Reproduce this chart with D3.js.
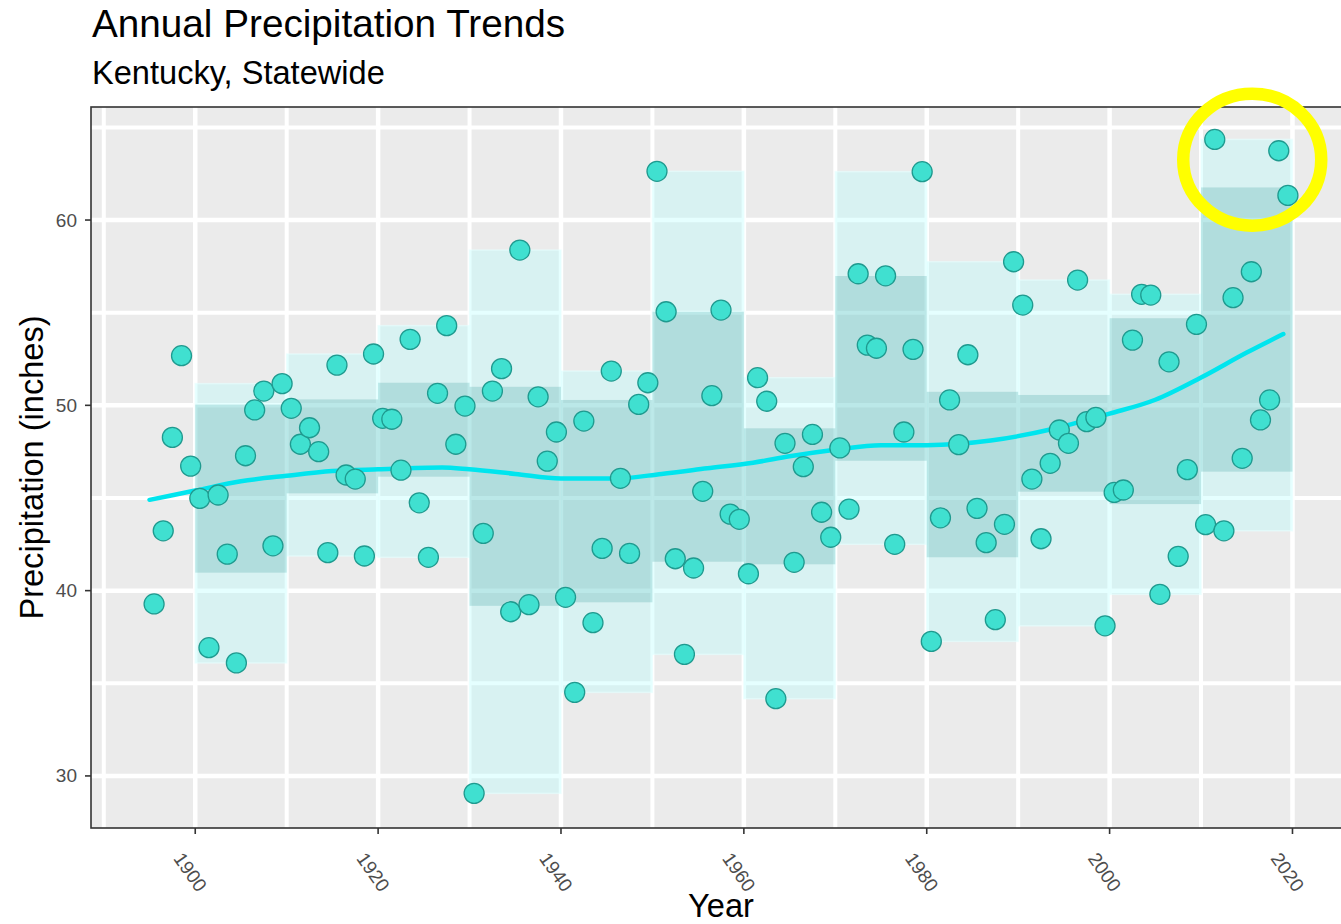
<!DOCTYPE html>
<html>
<head>
<meta charset="utf-8">
<script src="https://cdn.jsdelivr.net/npm/d3@7"></script>
<style>
  body { margin: 0; background: #fff; }
  text { font-family: "Liberation Sans", Arial, sans-serif; }
</style>
</head>
<body>
<svg id="chart" width="1341" height="924"></svg>
<script>
// annual statewide precipitation, one value per year 1895..2019 (inches)
const years = d3.range(1895, 2020);
const precip = [
  39.28, 43.23, 48.27, 52.68, 46.72,                                   // 1895-1899
  44.98, 36.92, 45.16, 41.97, 36.10, 47.28, 49.75, 50.77, 42.42, 51.17, // 1900s
  49.84, 47.90, 48.79, 47.50, 42.05, 52.17, 46.24, 46.02, 41.87, 52.77, // 1910s
  49.30, 49.25, 46.50, 53.56, 44.74, 41.80, 50.65, 54.30, 47.90, 49.96, // 1920s
  29.06, 43.09, 50.77, 51.98, 38.86, 58.38, 39.24, 50.46, 46.99, 48.56, // 1930s
  39.64, 34.51, 49.15, 38.27, 42.28, 51.85, 46.06, 42.01, 50.05, 51.22, // 1940s
  62.63, 55.05, 41.72, 36.56, 41.22, 45.36, 50.52, 55.14, 44.13, 43.85, // 1950s
  40.91, 51.49, 50.22, 34.17, 47.95, 41.53, 46.69, 48.43, 44.23, 42.88, // 1960s
  47.70, 44.40, 57.10, 53.25, 53.08, 56.99, 42.50, 48.56, 53.02, 62.61, // 1970s
  37.26, 43.93, 50.29, 47.88, 52.73, 44.44, 42.59, 38.43, 43.58, 57.75, // 1980s
  55.41, 46.02, 42.80, 46.87, 48.67, 47.95, 56.76, 49.12, 49.35, 38.10, // 1990s
  45.30, 45.43, 53.52, 55.99, 55.95, 39.80, 52.35, 41.85, 46.53, 54.37, // 2000s
  43.56, 64.35, 43.23, 55.81, 47.14, 57.21, 49.21, 50.29, 63.74, 61.33  // 2010s
];

// decade bands: the inner (darker) band limits
const decades = [1900, 1910, 1920, 1930, 1940, 1950, 1960, 1970, 1980, 1990, 2000, 2010];
const innerLow  = [40.97, 45.25, 46.15, 39.18, 39.37, 41.56, 41.42, 47.01, 41.80, 45.34, 44.67, 46.42];
const innerHigh = [50.04, 50.32, 51.22, 51.00, 50.29, 55.05, 48.76, 56.98, 50.73, 50.56, 54.70, 61.76];

// smoothed trend line
const trendYear  = [1895, 1900, 1905, 1910, 1915, 1920, 1927, 1930, 1935, 1940, 1946, 1951, 1956,
                    1961, 1965, 1970, 1975, 1980, 1987, 1994, 2000, 2005, 2010, 2015, 2019];
const trendValue = [44.9, 45.4, 45.9, 46.2, 46.45, 46.55, 46.65, 46.55, 46.3, 46.05, 46.05, 46.3, 46.6,
                    46.9, 47.25, 47.6, 47.85, 47.85, 48.1, 48.75, 49.55, 50.3, 51.5, 52.85, 53.85];

// axis ticks
const xMajor = [1900, 1920, 1940, 1960, 1980, 2000, 2020];
const xMinor = [1890, 1910, 1930, 1950, 1970, 1990, 2010, 2030];
const yMajor = [30, 40, 50, 60];
const yMinor = [35, 45, 55, 65];

// highlighted recent wet years (yellow ring)
const highlight = { year: 2015.6, value: 63.26 };

const svg = d3.select('#chart');

// panel geometry
const panel = { left: 91, top: 107, right: 1351, bottom: 828 };

const x = d3.scaleLinear().domain([1888.6, 2026.4]).range([panel.left, panel.right]);
const y = d3.scaleLinear().domain([27.19, 66.1]).range([panel.bottom, panel.top]);

// titles
svg.append('text').attr('x', 92).attr('y', 37)
  .style('font-size', '38.7px').attr('fill', '#000')
  .text('Annual Precipitation Trends');
svg.append('text').attr('x', 92).attr('y', 84)
  .style('font-size', '32.6px').attr('fill', '#000')
  .text('Kentucky, Statewide');

// panel background and grid
svg.append('defs').append('clipPath').attr('id', 'clip')
  .append('rect')
  .attr('x', panel.left).attr('y', panel.top)
  .attr('width', panel.right - panel.left).attr('height', panel.bottom - panel.top);

const plot = svg.append('g').attr('clip-path', 'url(#clip)');

plot.append('rect')
  .attr('x', panel.left).attr('y', panel.top)
  .attr('width', panel.right - panel.left).attr('height', panel.bottom - panel.top)
  .attr('fill', '#ebebeb');

const grid = plot.append('g').attr('stroke', '#fff');
grid.selectAll('line.vx')
  .data(xMajor.concat(xMinor))
  .join('line').attr('class', 'vx')
  .attr('x1', d => x(d)).attr('x2', d => x(d))
  .attr('y1', panel.top).attr('y2', panel.bottom)
  .attr('stroke-width', d => xMajor.includes(d) ? 4.5 : 4);
grid.selectAll('line.hy')
  .data(yMajor.concat(yMinor))
  .join('line').attr('class', 'hy')
  .attr('y1', d => y(d)).attr('y2', d => y(d))
  .attr('x1', panel.left).attr('x2', panel.right)
  .attr('stroke-width', d => yMajor.includes(d) ? 4.5 : 4);

// group yearly values by decade for the outer (min-max) band
const series = years.map((yr, i) => ({ year: yr, value: precip[i] }));
const bands = decades.map((d, i) => {
  const vals = series.filter(s => s.year >= d && s.year < d + 10).map(s => s.value);
  const [lo, hi] = d3.extent(vals);
  return { start: d, lo, hi, innerLo: innerLow[i], innerHi: innerHigh[i] };
});

plot.append('g').selectAll('rect')
  .data(bands)
  .join('rect')
  .attr('x', d => x(d.start))
  .attr('width', d => x(d.start + 10) - x(d.start))
  .attr('y', d => y(d.hi))
  .attr('height', d => y(d.lo) - y(d.hi))
  .attr('fill', 'rgba(180,255,255,0.35)')
  .attr('stroke', 'rgba(230,255,255,0.6)')
  .attr('stroke-width', 1.5);

plot.append('g').selectAll('rect')
  .data(bands)
  .join('rect')
  .attr('x', d => x(d.start))
  .attr('width', d => x(d.start + 10) - x(d.start))
  .attr('y', d => y(d.innerHi))
  .attr('height', d => y(d.innerLo) - y(d.innerHi))
  .attr('fill', 'rgba(0,128,128,0.18)');

// trend line
const line = d3.line()
  .x(d => x(d[0]))
  .y(d => y(d[1]))
  .curve(d3.curveMonotoneX);

plot.append('path')
  .datum(d3.zip(trendYear, trendValue))
  .attr('d', line)
  .attr('fill', 'none')
  .attr('stroke', '#00e5ee')
  .attr('stroke-width', 4.5)
  .attr('stroke-linecap', 'round');

// yearly points, drawn at mid-year
plot.append('g').selectAll('circle')
  .data(series)
  .join('circle')
  .attr('cx', d => x(d.year + 0.5))
  .attr('cy', d => y(d.value))
  .attr('r', 10)
  .attr('fill', '#40e0d0')
  .attr('stroke', '#1f9a8f')
  .attr('stroke-width', 1.3);

// panel border
svg.append('rect')
  .attr('x', panel.left).attr('y', panel.top)
  .attr('width', panel.right - panel.left).attr('height', panel.bottom - panel.top)
  .attr('fill', 'none').attr('stroke', '#333').attr('stroke-width', 1.6);

// y axis ticks and labels
const yAxis = svg.append('g');
yAxis.selectAll('line')
  .data(yMajor).join('line')
  .attr('x1', panel.left - 6).attr('x2', panel.left)
  .attr('y1', d => y(d)).attr('y2', d => y(d))
  .attr('stroke', '#333').attr('stroke-width', 1.6);
yAxis.selectAll('text')
  .data(yMajor).join('text')
  .attr('x', panel.left - 14).attr('y', d => y(d))
  .attr('text-anchor', 'end').attr('dominant-baseline', 'central')
  .style('font-size', '19px').attr('fill', '#4d4d4d')
  .text(d => d);

// x axis ticks and rotated labels
const xAxis = svg.append('g');
xAxis.selectAll('line')
  .data(xMajor).join('line')
  .attr('x1', d => x(d)).attr('x2', d => x(d))
  .attr('y1', panel.bottom).attr('y2', panel.bottom + 6)
  .attr('stroke', '#333').attr('stroke-width', 1.6);
xAxis.selectAll('text')
  .data(xMajor).join('text')
  .attr('transform', d => `translate(${x(d) - 5},${panel.bottom + 44}) rotate(55)`)
  .attr('text-anchor', 'middle').attr('dominant-baseline', 'central')
  .style('font-size', '19px').attr('fill', '#4d4d4d')
  .text(d => d);

// axis titles
svg.append('text')
  .attr('x', (panel.left + panel.right) / 2).attr('y', 917)
  .attr('text-anchor', 'middle')
  .style('font-size', '32.6px').attr('fill', '#000')
  .text('Year');
svg.append('text')
  .attr('transform', `translate(43,${(panel.top + panel.bottom) / 2}) rotate(-90)`)
  .attr('text-anchor', 'middle')
  .style('font-size', '32.6px').attr('fill', '#000')
  .text('Precipitation (inches)');

// yellow ring around the recent record years
svg.append('ellipse')
  .attr('cx', x(highlight.year)).attr('cy', y(highlight.value))
  .attr('rx', 69).attr('ry', 66)
  .attr('fill', 'none')
  .attr('stroke', '#ffff00')
  .attr('stroke-width', 12.5);
</script>
</body>
</html>
